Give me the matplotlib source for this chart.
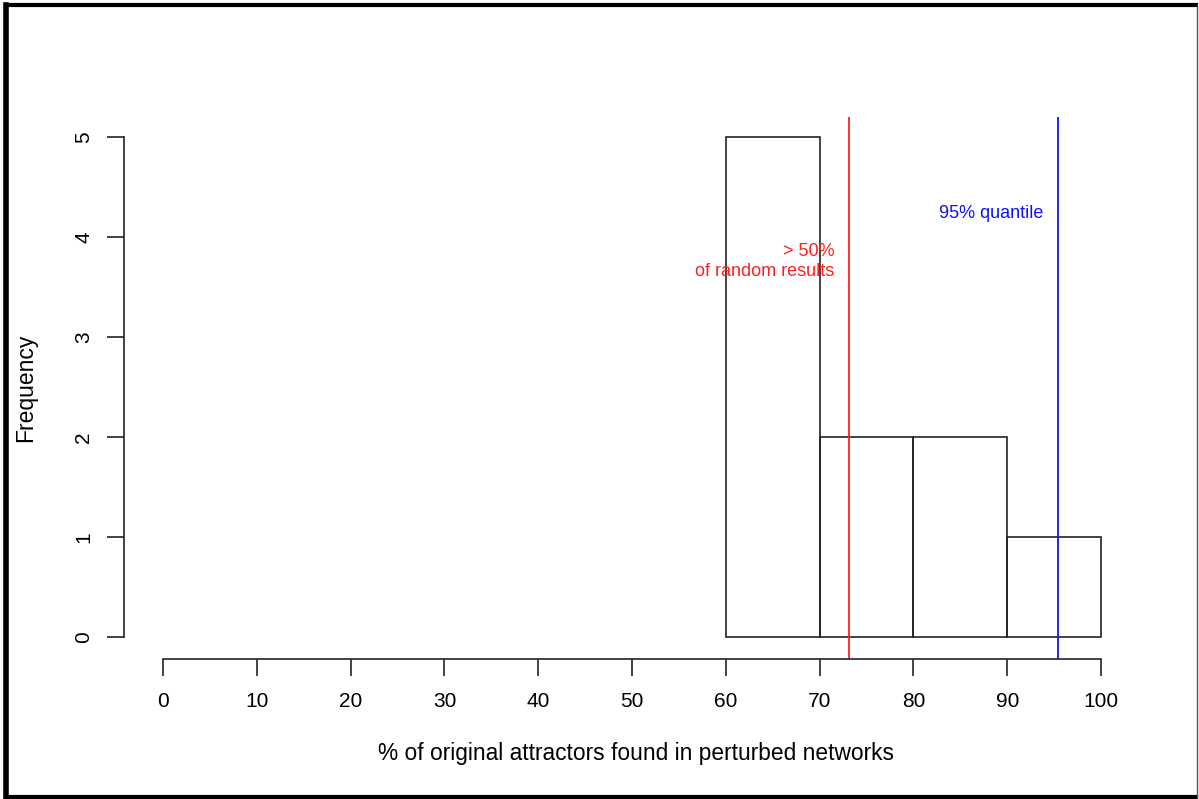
import matplotlib
matplotlib.use("Agg")
import matplotlib.pyplot as plt
from matplotlib.lines import Line2D

plt.rcParams['font.family'] = ['Liberation Sans', 'DejaVu Sans']

bin_edges = [60, 70, 80, 90, 100]
counts = [5, 2, 2, 1]
x_ticks = [0, 10, 20, 30, 40, 50, 60, 70, 80, 90, 100]
y_ticks = [0, 1, 2, 3, 4, 5]
median_random = 73.13
quantile_95 = 95.42

W, H = 1199, 799
fig = plt.figure(figsize=(W / 100, H / 100), dpi=100)
fig.patch.set_facecolor('white')

left, right, top, bottom = 124, 1148, 117, 659
ax = fig.add_axes([left / W, (H - bottom) / H, (right - left) / W, (bottom - top) / H])
ax.set_xlim(-4.16, 105.0)
ax.set_ylim(-0.22, 5.2)

ax.bar(bin_edges[:-1], counts, width=[bin_edges[i + 1] - bin_edges[i] for i in range(len(counts))],
       align='edge', fill=False, edgecolor='#222222', linewidth=1.2)

ax.axvline(median_random, color='#ff2020', linewidth=1.3)
ax.axvline(quantile_95, color='#1010ff', linewidth=1.3)

ax.text(71.6, 3.86, '> 50%', color='#ff2020', ha='right', va='center', fontsize=13)
ax.text(71.6, 3.66, 'of random results', color='#ff2020', ha='right', va='center', fontsize=13)
ax.text(93.8, 4.23, '95% quantile', color='#1010ff', ha='right', va='center', fontsize=13)

for s in ['top', 'right']:
    ax.spines[s].set_visible(False)
ax.spines['left'].set_position(('data', -4.16))
ax.spines['bottom'].set_position(('data', -0.22))
ax.spines['left'].set_bounds(0, 5)
ax.spines['bottom'].set_bounds(0, 100)
for s in ['left', 'bottom']:
    ax.spines[s].set_linewidth(1.2)
    ax.spines[s].set_color('#222222')

ax.set_xticks(x_ticks)
ax.set_yticks(y_ticks)
ax.set_xticklabels([str(v) for v in x_ticks])
ax.set_yticklabels([str(v) for v in y_ticks], rotation=90, va='center')
ax.tick_params(axis='both', direction='out', length=12, width=1.2, color='#222222',
               labelsize=15, pad=12)
ax.tick_params(axis='y', pad=10)
ax.patch.set_visible(False)

ax.set_xlabel('% of original attractors found in perturbed networks', fontsize=16.4, labelpad=22)
ax.set_ylabel('Frequency', fontsize=16.5, labelpad=27)

# frame around figure
def pxline(x0, y0, x1, y1, lw, color='black'):
    fig.add_artist(Line2D([x0 / W, x1 / W], [1 - y0 / H, 1 - y1 / H], transform=fig.transFigure,
                          color=color, linewidth=lw, solid_capstyle='projecting'))

pxline(6, 5, 1196, 5, 3.0)
pxline(6, 5, 6, 797, 4.0)
pxline(6, 797, 1196, 797, 3.0)
pxline(1196.5, 5, 1196.5, 797, 1.0, '#555555')

fig.savefig('out.png', dpi=100)
